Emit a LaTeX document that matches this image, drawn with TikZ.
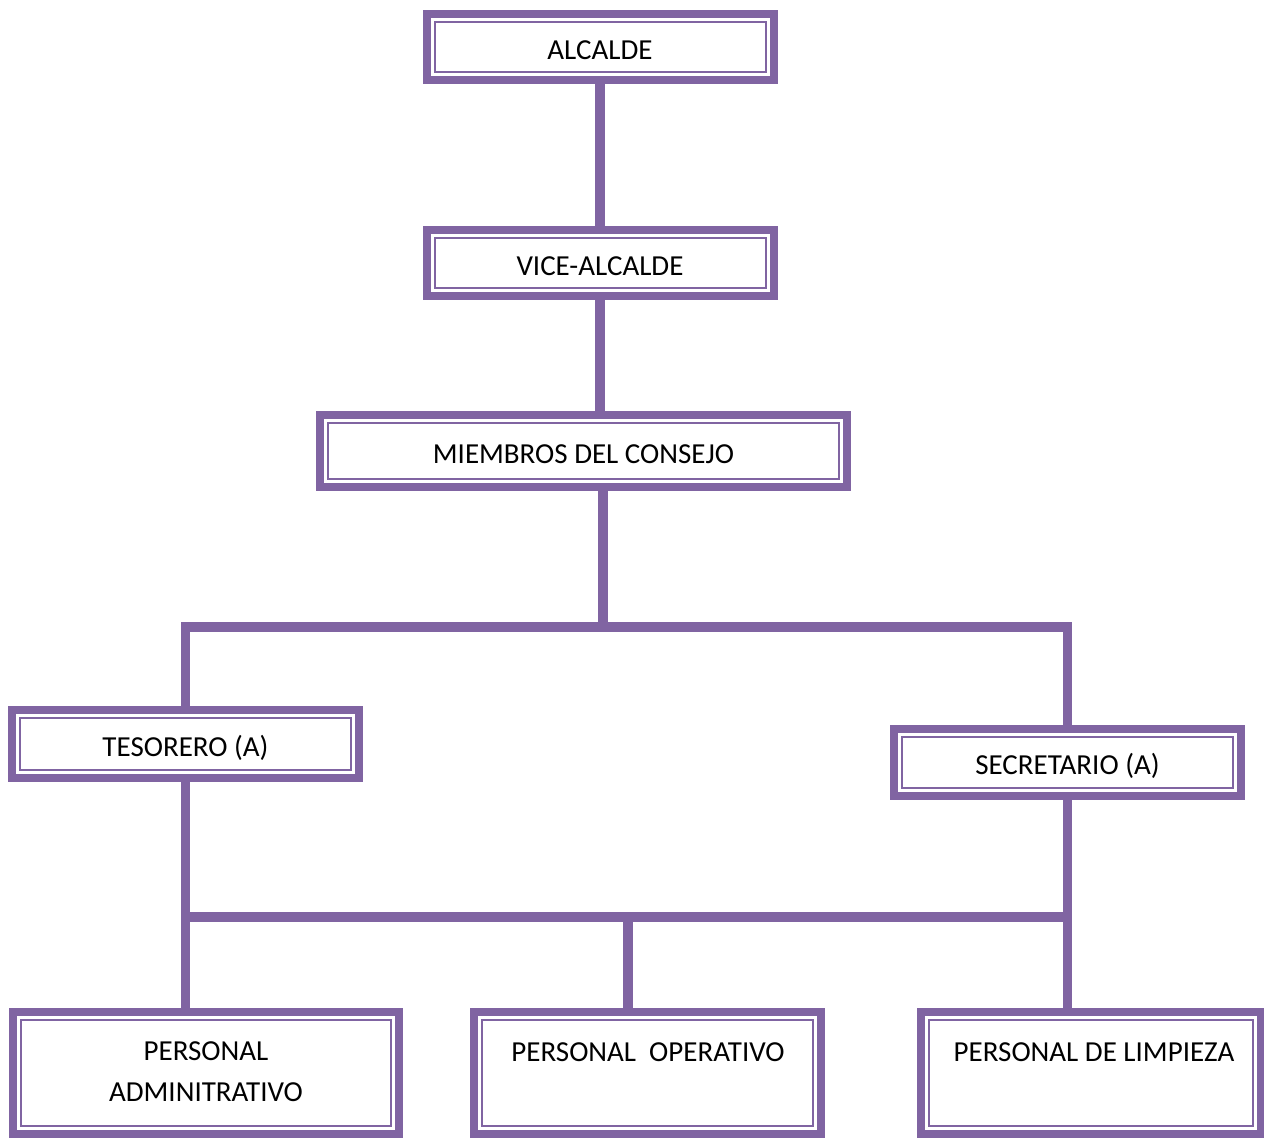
\documentclass[tikz,border=0pt]{standalone}
\usepackage{fontspec}
\setmainfont{Carlito}
\usetikzlibrary{calc}
\definecolor{orgpurple}{HTML}{8064A2}

\tikzset{
  orgbox/.style={draw=orgpurple, line width=4pt, minimum width=173.5pt, minimum height=33pt,
    inner sep=0pt, text height=12.3pt, text depth=0pt, font={\fontsize{14.5}{20.5}\selectfont},
    path picture={\draw[orgpurple, line width=1pt]
      ([shift={(4pt,4pt)}]path picture bounding box.south west) rectangle
      ([shift={(-4pt,-4pt)}]path picture bounding box.north east);}},
  orgtext/.style={font={\fontsize{14.5}{20.5}\selectfont}, align=center, inner sep=0pt},
  link/.style={draw=orgpurple, line width=4.8pt}
}

\begin{document}
\begin{tikzpicture}[x=0.5pt, y=-0.5pt]
    \useasboundingbox (0,0) rectangle (1264,1138);

    % boxes
    \node[orgbox] (alc) at (600,47) {ALCALDE};
    \node[orgbox] (vice) at (600,263) {VICE-ALCALDE};
    \node[orgbox, minimum width=263.5pt, minimum height=36pt] (cons) at (583.5,451) {MIEMBROS DEL CONSEJO};
    \node[orgbox, minimum height=34pt] (tes) at (185.5,744) {TESORERO (A)};
    \node[orgbox, minimum height=33.5pt] (sec) at (1067.5,762.5) {SECRETARIO (A)};
    \node[orgbox, minimum width=193pt, minimum height=61pt] (adm) at (206,1073) {};
    \node[orgbox, minimum height=61pt] (ope) at (647.5,1073) {};
    \node[orgbox, minimum width=170pt, minimum height=61pt] (lim) at (1091,1073) {};

    \node[orgtext] (admtxt) at (206,1072) {PERSONAL\\ADMINITRATIVO};
    \node[orgtext] (opetxt) at (648,1052) {PERSONAL~~OPERATIVO};
    \node[orgtext] (limtxt) at (1094,1052) {PERSONAL DE LIMPIEZA};

    % bus points
    \coordinate (busA) at (603,627);
    \coordinate (busB) at (628,917);

    % links
    \draw[link] (alc.south) -- (vice.north);
    \draw[link] (vice.south) -- (vice.south |- cons.north);
    \draw[link] (busA |- cons.south) -- (busA);
    \draw[link] (tes.north) -- (tes.north |- busA) -- (sec.north |- busA) -- (sec.north);
    \draw[link] (tes.south) -- (tes.south |- adm.north);
    \draw[link] (sec.south) -- (sec.south |- lim.north);
    \draw[link] (tes.south |- busB) -- (sec.south |- busB);
    \draw[link] (busB) -- (busB |- ope.north);
\end{tikzpicture}
\end{document}
